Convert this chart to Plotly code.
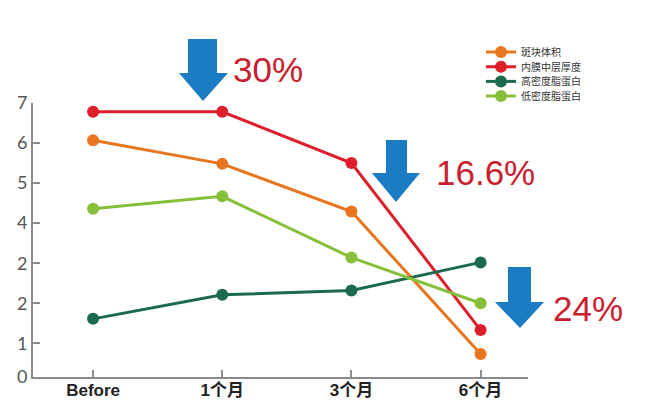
import plotly.graph_objects as go

categories = ["Before", "1个月", "3个月", "6个月"]
series_names = ["斑块体积", "内膜中层厚度", "高密度脂蛋白", "低密度脂蛋白"]
plaque_volume = [6.07, 5.48, 4.29, 0.73]
imt = [6.78, 6.78, 5.50, 1.33]
hdl = [1.61, 2.21, 2.32, 3.02]
ldl = [4.36, 4.67, 3.14, 2.00]
colors = ["#E8761F", "#DC1F2B", "#1C6A4E", "#86BF3A"]

y_tick_vals = [0.158, 1, 2, 3, 4, 5, 6, 7]
y_tick_text = ["0", "1", "2", "2", "4", "5", "6", "7"]

callout_texts = ["30%", "16.6%", "24%"]

# page offset of the figure inside the html body (default body margin)
OFF = 8
W, H = 650, 415
# plot area in page pixels: x 33..528, y 103..377
L = 33 - OFF
T = 103 - OFF
R = W - (528 - OFF)
B = H - (377 - OFF)
pw, ph = W - L - R, H - T - B


def px_to_paper(px, py):
    return (px - OFF - L) / pw, (H - B - (py - OFF)) / ph


fig = go.Figure()
legend_ids = ["legend", "legend2", "legend3", "legend4"]
for name, vals, col, lid in zip(series_names, [plaque_volume, imt, hdl, ldl], colors, legend_ids):
    fig.add_trace(go.Scatter(
        x=categories, y=vals, name=name, mode="lines+markers",
        line=dict(color=col, width=3),
        marker=dict(color=col, size=12),
        legend=lid,
    ))

# down arrows (decorations), page-pixel geometry: shaft left/right, top, head base y, head left/right, tip
arrows = [
    (188, 217, 39, 73, 179, 228, 203, 101),
    (386, 407, 140, 173, 372, 420, 396, 202),
    (508, 531, 267, 302, 495, 544, 520, 328),
]
for sl, sr, top, hb, hl, hr, tx, ty in arrows:
    pts = [(sl, top), (sr, top), (sr, hb), (hr, hb), (tx, ty), (hl, hb), (sl, hb)]
    pp = [px_to_paper(a, b) for a, b in pts]
    path = "M " + " L ".join(f"{a:.4f},{b:.4f}" for a, b in pp) + " Z"
    fig.add_shape(type="path", path=path, xref="paper", yref="paper",
                  fillcolor="#1B7CC4", line=dict(width=0))

text_pos = [(231, 70), (434, 172), (551, 308)]
for txt, (tx, ty) in zip(callout_texts, text_pos):
    ax, ay = px_to_paper(tx, ty)
    fig.add_annotation(x=ax, y=ay, xref="paper", yref="paper", text=txt,
                       showarrow=False, xanchor="left", yanchor="middle",
                       font=dict(family="Liberation Sans Narrow, Arial Narrow, Liberation Sans, sans-serif",
                                 size=35, color="#C8202F"))

legend_style = dict(xanchor="left", yanchor="top",
                    font=dict(family="Noto Sans CJK SC", size=10, color="#333333"),
                    bgcolor="rgba(0,0,0,0)", tracegroupgap=0, itemwidth=30)
row_centers = [51, 65.7, 80.4, 95.1]
legend_layout = {}
for lid, rc in zip(legend_ids, row_centers):
    lx, ly = px_to_paper(481, rc - 13.5)
    legend_layout[lid] = dict(x=lx, y=ly, **legend_style)

fig.update_layout(
    width=W, height=H,
    margin=dict(l=L, r=R, t=T, b=B, pad=0, autoexpand=False),
    paper_bgcolor="white", plot_bgcolor="white",
    showlegend=True,
    **legend_layout,
)
fig.update_xaxes(
    type="category", categoryorder="array", categoryarray=categories,
    range=[-0.465, 3.367], showgrid=False, zeroline=False,
    showline=True, linecolor="#8C8C8C", linewidth=2,
    ticks="inside", ticklen=7, tickcolor="#8C8C8C", tickwidth=1.5,
    ticklabelstandoff=-3,
    tickfont=dict(family="Liberation Sans, Noto Sans CJK SC", size=17, color="#222222", weight=700),
)
fig.update_yaxes(
    range=[0.158, 7], showgrid=False, zeroline=False,
    showline=True, linecolor="#8C8C8C", linewidth=2,
    ticks="inside", ticklen=7, tickcolor="#8C8C8C", tickwidth=1.5,
    tickvals=y_tick_vals, ticktext=y_tick_text,
    tickfont=dict(family="Lato, Open Sans, sans-serif", size=18, color="#555555"),
)

fig.write_html("out.html")
